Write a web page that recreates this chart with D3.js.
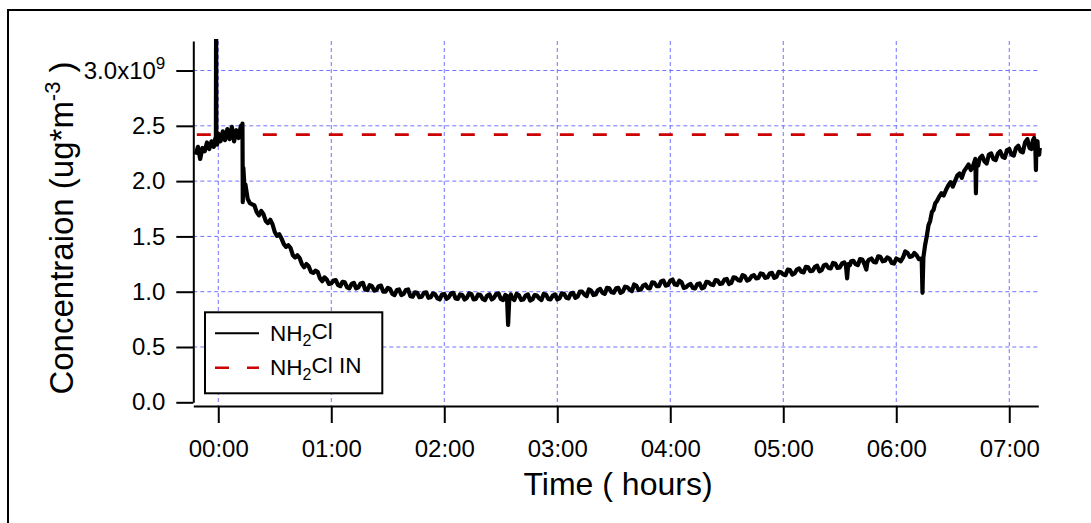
<!DOCTYPE html>
<html><head><meta charset="utf-8">
<script src="https://cdn.jsdelivr.net/npm/d3@7"></script>
<style>
body{margin:0;background:#fff}
svg{display:block}
text{font-family:Arial,"Liberation Sans",Helvetica,sans-serif;fill:#000}
</style>
</head><body>
<svg id="chart" width="1091" height="523"></svg>
<script>
// ---- data ----
const xTicks = [0, 1, 2, 3, 4, 5, 6, 7];
const xTickLabels = ["00:00", "01:00", "02:00", "03:00", "04:00", "05:00", "06:00", "07:00"];
const yTicks = [0, 0.5, 1.0, 1.5, 2.0, 2.5, 3.0];
const yTickLabels = ["0.0", "0.5", "1.0", "1.5", "2.0", "2.5", "3.0x10"];
const xDomain = [-0.221, 7.257];
const yDomain = [0, 3.267];
const seriesNames = ["NH", "NH"];
const inTimes = [-0.19, 7.257];
const inValues = [2.42, 2.42];
// NH2Cl, [hours, value in 1e9 ug*m^-3]
const nh2cl = [
[-0.20,2.24],[-0.18,2.31],[-0.16,2.20],[-0.14,2.30],[-0.12,2.27],[-0.10,2.35],[-0.08,2.29],[-0.06,2.36],[-0.04,2.31],[-0.025,2.39],[-0.021,2.36],[-0.019,3.60],[-0.017,2.40],[-0.01,2.33],
[0.00,2.43],[0.02,2.36],[0.04,2.45],[0.06,2.37],[0.08,2.47],[0.10,2.38],[0.12,2.49],[0.14,2.36],[0.16,2.46],[0.18,2.39],[0.20,2.50],[0.21,2.41],[0.214,2.52],[0.217,1.81],[0.222,2.12],[0.23,1.98],
[0.24,1.97],[0.26,1.84],[0.28,1.80],[0.30,1.79],[0.32,1.78],[0.34,1.72],[0.36,1.69],[0.38,1.73],[0.40,1.70],[0.42,1.64],[0.44,1.62],[0.46,1.65],[0.48,1.61],[0.50,1.54],[0.52,1.505],[0.54,1.52],[0.56,1.48],[0.58,1.43],[0.60,1.405],
[0.62,1.42],[0.64,1.395],[0.66,1.33],[0.68,1.31],[0.70,1.33],[0.72,1.305],[0.74,1.25],[0.76,1.22],[0.78,1.25],[0.80,1.23],[0.82,1.18],[0.84,1.17],[0.86,1.19],[0.88,1.18],[0.90,1.12],[0.92,1.095],[0.94,1.13],[0.96,1.11],[0.98,1.07],[1.00,1.075],
[1.02,1.10],[1.04,1.105],[1.06,1.06],[1.08,1.05],[1.10,1.09],[1.12,1.085],[1.14,1.04],[1.16,1.03],[1.18,1.07],[1.20,1.08],[1.22,1.03],[1.24,1.04],[1.26,1.075],[1.28,1.08],[1.30,1.02],[1.32,1.015],[1.34,1.06],[1.36,1.05],[1.38,1.01],[1.40,1.015],
[1.42,1.05],[1.44,1.055],[1.46,1.00],[1.48,1.00],[1.50,1.035],[1.52,1.025],[1.54,0.98],[1.56,0.97],[1.58,1.015],[1.60,1.02],[1.62,0.97],[1.64,0.98],[1.66,1.015],[1.68,1.02],[1.70,0.96],[1.72,0.955],[1.74,0.995],[1.76,0.99],[1.78,0.95],[1.80,0.955],
[1.82,0.99],[1.84,0.995],[1.86,0.945],[1.88,0.95],[1.90,0.985],[1.92,0.975],[1.94,0.94],[1.96,0.93],[1.98,0.975],[2.00,0.98],[2.02,0.935],[2.04,0.95],[2.06,0.985],[2.08,0.99],[2.10,0.94],[2.12,0.935],[2.14,0.975],[2.16,0.97],[2.18,0.93],[2.20,0.945],
[2.22,0.985],[2.24,0.98],[2.26,0.93],[2.28,0.935],[2.30,0.975],[2.32,0.97],[2.34,0.935],[2.36,0.925],[2.38,0.965],[2.40,0.975],[2.42,0.93],[2.44,0.945],[2.46,0.98],[2.48,0.985],[2.50,0.935],[2.52,0.925],[2.54,0.97],[2.555,0.96],[2.565,0.70],[2.575,0.93],
[2.59,0.975],[2.60,0.94],[2.62,0.925],[2.64,0.98],[2.66,0.97],[2.68,0.925],[2.70,0.93],[2.72,0.965],[2.74,0.975],[2.76,0.92],[2.78,0.93],[2.80,0.97],[2.82,0.965],[2.84,0.94],[2.86,0.925],[2.88,0.98],[2.90,0.975],[2.92,0.935],[2.94,0.93],[2.96,0.965],[2.98,0.975],
[3.00,0.93],[3.02,0.94],[3.04,0.985],[3.06,0.98],[3.08,0.945],[3.10,0.94],[3.12,0.985],[3.14,0.99],[3.16,0.945],[3.18,0.955],[3.20,1.00],[3.22,1.00],[3.24,0.975],[3.26,0.96],[3.28,1.02],[3.30,1.01],[3.32,0.97],[3.34,0.975],[3.36,1.015],[3.38,1.025],
[3.40,0.99],[3.42,0.98],[3.44,1.035],[3.46,1.03],[3.48,0.995],[3.50,0.99],[3.52,1.03],[3.54,1.035],[3.56,0.99],[3.58,1.00],[3.60,1.045],[3.62,1.04],[3.64,1.02],[3.66,1.005],[3.68,1.065],[3.70,1.055],[3.72,1.015],[3.74,1.02],[3.76,1.055],[3.78,1.065],
[3.80,1.035],[3.82,1.03],[3.84,1.085],[3.86,1.08],[3.88,1.05],[3.90,1.05],[3.92,1.095],[3.94,1.10],[3.96,1.055],[3.98,1.06],[4.00,1.10],[4.02,1.11],[4.04,1.065],[4.06,1.06],[4.08,1.10],[4.10,1.085],[4.12,1.035],[4.14,1.04],[4.16,1.06],[4.18,1.07],
[4.20,1.035],[4.22,1.03],[4.24,1.07],[4.26,1.075],[4.28,1.03],[4.30,1.04],[4.32,1.09],[4.34,1.085],[4.36,1.065],[4.38,1.06],[4.40,1.105],[4.42,1.10],[4.44,1.07],[4.46,1.075],[4.48,1.11],[4.50,1.115],[4.52,1.07],[4.54,1.08],[4.56,1.13],[4.58,1.125],
[4.60,1.105],[4.62,1.10],[4.64,1.15],[4.66,1.14],[4.68,1.10],[4.70,1.11],[4.72,1.14],[4.74,1.15],[4.76,1.12],[4.78,1.125],[4.80,1.165],[4.82,1.16],[4.84,1.125],[4.86,1.13],[4.88,1.165],[4.90,1.17],[4.92,1.125],[4.94,1.135],[4.96,1.18],[4.98,1.175],
[5.00,1.155],[5.02,1.15],[5.04,1.20],[5.06,1.195],[5.08,1.155],[5.10,1.165],[5.12,1.20],[5.14,1.21],[5.16,1.18],[5.18,1.175],[5.20,1.225],[5.22,1.22],[5.24,1.185],[5.26,1.19],[5.28,1.225],[5.30,1.235],[5.32,1.185],[5.34,1.195],[5.36,1.24],[5.38,1.245],
[5.40,1.215],[5.42,1.21],[5.44,1.26],[5.46,1.255],[5.48,1.215],[5.50,1.22],[5.52,1.255],[5.54,1.265],[5.555,1.235],[5.565,1.12],[5.575,1.25],[5.59,1.24],[5.60,1.275],[5.62,1.28],[5.64,1.25],[5.66,1.24],[5.68,1.295],
[5.70,1.29],[5.72,1.245],[5.735,1.20],[5.745,1.27],[5.76,1.29],[5.78,1.30],[5.80,1.27],[5.82,1.265],[5.84,1.32],[5.86,1.315],[5.88,1.275],[5.90,1.28],[5.92,1.31],[5.94,1.30],[5.96,1.26],[5.98,1.255],[6.00,1.30],
[6.02,1.29],[6.04,1.275],[6.06,1.31],[6.08,1.365],[6.10,1.35],[6.12,1.315],[6.14,1.32],[6.16,1.35],[6.18,1.33],[6.20,1.295],[6.225,1.30],[6.232,0.99],[6.24,1.31],[6.255,1.42],[6.27,1.50],[6.285,1.60],[6.30,1.64],
[6.315,1.72],[6.33,1.74],[6.345,1.80],[6.36,1.82],[6.38,1.86],[6.40,1.89],[6.42,1.87],[6.44,1.92],[6.46,1.96],[6.48,1.99],[6.50,1.95],[6.52,2.00],[6.54,2.05],[6.56,2.07],[6.58,2.03],[6.60,2.09],[6.62,2.12],[6.64,2.15],[6.66,2.10],[6.68,2.14],
[6.70,2.20],[6.705,1.89],[6.71,2.18],[6.725,2.14],[6.74,2.21],[6.76,2.23],[6.78,2.18],[6.80,2.16],[6.82,2.24],[6.84,2.25],[6.86,2.20],[6.88,2.19],[6.90,2.25],[6.92,2.27],[6.94,2.22],[6.96,2.21],[6.98,2.28],
[7.00,2.29],[7.02,2.24],[7.04,2.23],[7.06,2.30],[7.08,2.32],[7.10,2.27],[7.12,2.26],[7.14,2.35],[7.16,2.38],[7.18,2.30],[7.195,2.29],[7.21,2.37],[7.22,2.39],[7.23,2.33],[7.236,2.10],[7.24,2.34],[7.25,2.36],[7.255,2.26],[7.265,2.24],[7.27,2.30]
];

// ---- layout ----
const svg = d3.select("#chart");
const X0 = 193.3, X1 = 1038.3, Y0 = 402.3, Y1 = 41, XAXIS_Y = 406;
const x = d3.scaleLinear().domain(xDomain).range([X0, X1]);
const y = d3.scaleLinear().domain(yDomain).range([Y0, Y1]);
const gridColor = "#7272ff";

// outer frame
svg.append("rect").attr("x", 8).attr("y", 10).attr("width", 1200).attr("height", 700)
  .attr("fill", "none").attr("stroke", "#000").attr("stroke-width", 2);

// grid
const grid = svg.append("g");
grid.selectAll(".gx").data(xTicks).join("line")
  .attr("x1", d => x(d)).attr("x2", d => x(d)).attr("y1", Y1).attr("y2", XAXIS_Y)
  .attr("stroke", gridColor).attr("stroke-width", 1).attr("stroke-dasharray", "4,3");
grid.selectAll(".gy").data(yTicks.filter(d => d > 0)).join("line")
  .attr("x1", X0).attr("x2", X1).attr("y1", d => y(d)).attr("y2", d => y(d))
  .attr("stroke", gridColor).attr("stroke-width", 1).attr("stroke-dasharray", "4,3");

// clip
svg.append("clipPath").attr("id", "clip").append("rect")
  .attr("x", X0).attr("y", 39).attr("width", X1 - X0 + 4).attr("height", XAXIS_Y - 39);

// NH2Cl IN dashed line
const inData = inTimes.map((t, i) => [t, inValues[i]]);
svg.append("path").datum(inData)
  .attr("clip-path", "url(#clip)")
  .attr("d", d3.line().x(d => x(d[0])).y(d => y(d[1])))
  .attr("fill", "none").attr("stroke", "#cc0000").attr("stroke-width", 2.8)
  .attr("stroke-dasharray", "14,19");

// NH2Cl line
svg.append("path").datum(nh2cl)
  .attr("clip-path", "url(#clip)")
  .attr("d", d3.line().x(d => x(d[0])).y(d => y(d[1])))
  .attr("fill", "none").attr("stroke", "#000").attr("stroke-width", 4.2)
  .attr("stroke-linejoin", "round");

// y axis
const yAxis = svg.append("g").attr("transform", `translate(${X0},0)`)
  .call(d3.axisLeft(y).tickValues(yTicks).tickSize(17).tickSizeOuter(0).tickPadding(11)
    .tickFormat((d, i) => yTickLabels[i]));
yAxis.select(".domain").attr("stroke-width", 2);
yAxis.selectAll(".tick line").attr("stroke-width", 2);
yAxis.selectAll("text").attr("font-size", "24px").attr("font-family", "Arial, 'Liberation Sans', sans-serif");
yAxis.selectAll(".tick text").filter(d => d === 3)
  .append("tspan").attr("dy", "-0.55em").attr("font-size", "17px").text("9");

// x axis
const xAxis = svg.append("g").attr("transform", `translate(0,${XAXIS_Y})`)
  .call(d3.axisBottom(x).tickValues(xTicks).tickSize(17).tickSizeOuter(0).tickPadding(17)
    .tickFormat((d, i) => xTickLabels[i]));
xAxis.select(".domain").attr("stroke-width", 2);
xAxis.selectAll(".tick line").attr("stroke-width", 2);
xAxis.selectAll("text").attr("font-size", "24px").attr("font-family", "Arial, 'Liberation Sans', sans-serif");

// axis titles
svg.append("text").attr("x", 618).attr("y", 495).attr("text-anchor", "middle")
  .attr("font-size", "32px").text("Time ( hours)");
const yt = svg.append("text").attr("transform", "translate(73,228) rotate(-90)")
  .attr("text-anchor", "middle").attr("font-size", "33px");
yt.append("tspan").text("Concentraion (ug*m");
yt.append("tspan").attr("dy", "-0.6em").attr("font-size", "22px").text("-3");
yt.append("tspan").attr("dy", "0.4em").text(" )");

// legend
const lg = svg.append("g");
lg.append("rect").attr("x", 205).attr("y", 312.3).attr("width", 177.3).attr("height", 81)
  .attr("fill", "#fff").attr("stroke", "#000").attr("stroke-width", 2);
lg.append("line").attr("x1", 215).attr("x2", 259).attr("y1", 333.3).attr("y2", 333.3)
  .attr("stroke", "#000").attr("stroke-width", 2);
lg.append("line").attr("x1", 215).attr("x2", 259).attr("y1", 367.7).attr("y2", 367.7)
  .attr("stroke", "#cc0000").attr("stroke-width", 2.5).attr("stroke-dasharray", "14,18");
const legendRows = [{y: 340.7, suffix: "Cl"}, {y: 375, suffix: "Cl IN"}];
legendRows.forEach((r, i) => {
  const t = lg.append("text").attr("x", 270).attr("y", r.y).attr("font-size", "22.5px");
  t.append("tspan").text(seriesNames[i]);
  t.append("tspan").attr("dy", "0.3em").attr("font-size", "16px").text("2");
  t.append("tspan").attr("dy", "-0.3em").text(r.suffix);
});
</script>
</body></html>
